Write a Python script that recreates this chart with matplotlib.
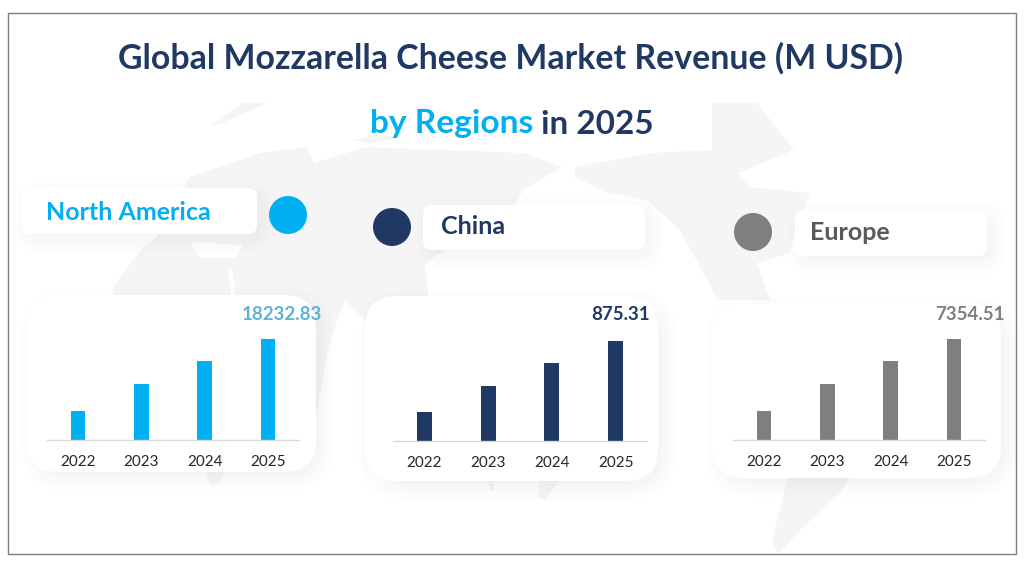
import matplotlib
matplotlib.use('Agg')
import matplotlib.pyplot as plt
from matplotlib.patches import FancyBboxPatch, Circle, Polygon, Rectangle

plt.rcParams['font.family'] = ['Lato', 'DejaVu Sans']

years = ['2022', '2023', '2024', '2025']
north_america = [5235, 10109, 14262, 18232.83]
china = [254, 481, 683, 875.31]
europe = [2112, 4078, 5752, 7354.51]

W, H = 1024, 567
BLUE = '#00B0F0'
NAVY = '#1F3864'
GREY = '#7F7F7F'

fig = plt.figure(figsize=(W / 100, H / 100), dpi=100)

# background layer in pixel coords
bg = fig.add_axes([0, 0, 1, 1])
bg.set_xlim(0, W)
bg.set_ylim(H, 0)
bg.axis('off')


def box(x0, y0, x1, y1, r, z=3, blur=20):
    # soft shadow from stacked low alpha boxes, shifted down and right
    for i in range(blur, 0, -2):
        bg.add_patch(FancyBboxPatch((x0 + r + 6, y0 + r + 6), x1 - x0 - 2 * r, y1 - y0 - 2 * r,
                                    boxstyle='round,pad=%d,rounding_size=%d' % (r + i - 6, r + i),
                                    fc='#000000', ec='none', alpha=0.0055, zorder=z))
    bg.add_patch(FancyBboxPatch((x0 + r, y0 + r), x1 - x0 - 2 * r, y1 - y0 - 2 * r,
                                boxstyle='round,pad=%d,rounding_size=%d' % (r, r),
                                fc='white', ec='none', zorder=z + 1))


# faint world map behind everything
land = [
    # eurasia and africa
    [(113, 287), (143, 247), (157, 237), (190, 177), (261, 153), (307, 147), (314, 163), (366, 147), (523, 153),
     (562, 167), (523, 190), (516, 203), (425, 263), (428, 296), (365, 320), (345, 300), (330, 340), (315, 420),
     (280, 470), (150, 470), (120, 340)],
    # north america
    [(575, 167), (653, 153), (712, 150), (794, 150), (738, 173), (751, 187), (810, 193), (797, 223), (790, 253),
     (757, 263), (770, 300), (718, 300), (680, 230), (647, 200), (607, 193), (575, 177)],
    # greenland
    [(712, 103), (757, 103), (794, 150), (740, 165), (712, 150)],
    # arctic islands
    [(209, 127), (242, 103), (268, 103), (222, 123)],
    [(350, 140), (378, 135), (404, 137), (372, 143)],
    # south america
    [(790, 470), (855, 470), (838, 495), (800, 530), (778, 555), (772, 540)],
    # small bits under the cards
    [(487, 480), (495, 480), (493, 490), (490, 490)],
    [(540, 480), (560, 480), (545, 500), (538, 498)],
    [(206, 470), (226, 470), (218, 484), (210, 485)],
    [(318, 330), (322, 330), (326, 350), (321, 352)],
]
for pts in land:
    bg.add_patch(Polygon(pts, closed=True, fc='#F5F5F6', ec='none', zorder=1))

# holes in the map, mediterranean and red sea
for pts in [[(190, 242), (243, 245), (235, 258), (200, 258)], [(228, 268), (232, 268), (236, 295), (231, 295)]]:
    bg.add_patch(Polygon(pts, closed=True, fc='white', ec='none', zorder=2))

# outer frame
bg.add_patch(Rectangle((7.5, 12.5), 1008, 541, fc='none', ec=GREY, lw=1, zorder=10))

# title
bg.text(511, 58, 'Global Mozzarella Cheese Market Revenue (M USD)', fontsize=24.4, fontweight='bold',
        color=NAVY, ha='center', va='center', zorder=6)
bg.text(370, 124, 'by Regions', fontsize=24.1, fontweight='bold', color=BLUE, ha='left', va='center', zorder=6)
bg.text(541, 124, 'in 2025', fontsize=24, fontweight='bold', color=NAVY, ha='left', va='center', zorder=6)

# one panel per region
panels = [
    {'name': 'North America', 'vals': north_america, 'color': BLUE, 'name_color': BLUE, 'val_color': '#5BB4D2',
     'label': (22, 188, 257, 234), 'name_x': 46, 'name_y': 211, 'dot': (288, 215), 'card': (27, 295, 316, 472),
     'axis': (47, 299), 'base': 440, 'bar_px': 101, 'val_xy': (322, 315)},
    {'name': 'China', 'vals': china, 'color': NAVY, 'name_color': NAVY, 'val_color': NAVY,
     'label': (423, 205, 645, 250), 'name_x': 441, 'name_y': 226, 'dot': (392, 227), 'card': (365, 296, 658, 481),
     'axis': (393, 647), 'base': 441, 'bar_px': 100, 'val_xy': (650, 315)},
    {'name': 'Europe', 'vals': europe, 'color': GREY, 'name_color': '#595959', 'val_color': GREY,
     'label': (795, 210, 987, 256), 'name_x': 810, 'name_y': 232, 'dot': (753, 232), 'card': (712, 303, 1001, 478),
     'axis': (733, 985), 'base': 440, 'bar_px': 101, 'val_xy': (1005, 315)},
]

for p in panels:
    box(*p['label'], r=9)
    bg.text(p['name_x'], p['name_y'] + 1, p['name'], fontsize=18, fontweight='bold', color=p['name_color'],
            ha='left', va='center', zorder=6)
    bg.add_patch(Circle(p['dot'], 19, fc=p['color'], ec='none', zorder=6))
    box(*p['card'], r=32)

    # bars on their own axes
    x0, x1 = p['axis']
    base = p['base']
    top = base - 112
    ax = fig.add_axes([x0 / W, 1 - base / H, (x1 - x0) / W, (base - top) / H], zorder=5)
    ax.patch.set_alpha(0)
    ax.bar(range(4), p['vals'], width=0.236, color=p['color'])
    ax.set_xlim(-0.49, 3.49)
    ax.set_ylim(0, p['vals'][-1] * 112 / p['bar_px'])
    ax.set_xticks(range(4))
    ax.set_xticklabels(years, fontsize=11, color='#262626')
    ax.tick_params(axis='x', length=0, pad=10.5)
    ax.set_yticks([])
    for s in ['top', 'left', 'right']:
        ax.spines[s].set_visible(False)
    ax.spines['bottom'].set_color('#D9D9D9')
    ax.spines['bottom'].set_linewidth(1)

    bg.text(p['val_xy'][0], p['val_xy'][1], '%.2f' % p['vals'][-1], fontsize=13.5, fontweight='bold',
            color=p['val_color'], ha='right', va='center', zorder=6)

fig.savefig('out.png', dpi=100)
